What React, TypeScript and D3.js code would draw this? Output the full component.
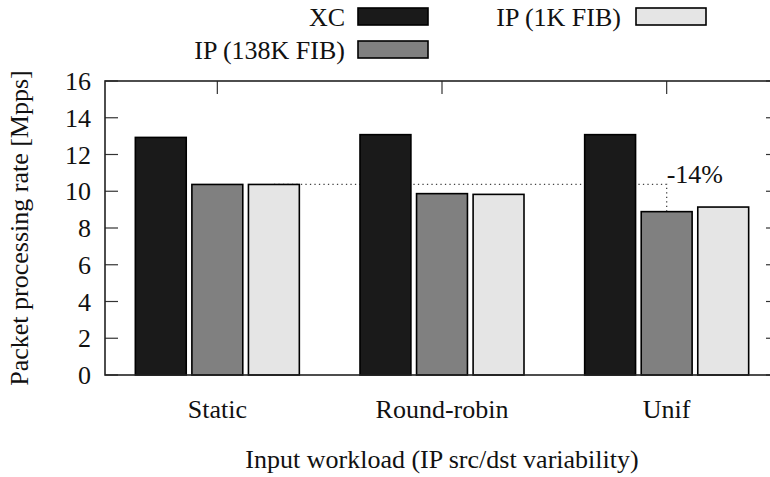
import React from "react";
import * as d3 from "d3";

// workloads on the x axis
const categories = ["Static", "Round-robin", "Unif"];
const seriesNames = ["XC", "IP (138K FIB)", "IP (1K FIB)"];
const seriesColors = ["#1a1a1a", "#808080", "#e5e5e5"];

// Mpps, one array per series
const xcValues = [12.93, 13.08, 13.08];
const ip138kValues = [10.37, 9.87, 8.89];
const ip1kValues = [10.37, 9.83, 9.14];
const yTicks = [0, 2, 4, 6, 8, 10, 12, 14, 16];

const annotation = "-14%";

const W = 770, H = 477;
const margin = { top: 81, right: -9, bottom: 102, left: 105 };
const FONT = "Times New Roman, Liberation Serif, DejaVu Serif, serif";

export default function App() {
  const series = [xcValues, ip138kValues, ip1kValues];

  const x = d3.scaleBand().domain(categories).range([margin.left, W - margin.right]).padding(0);
  const xs = d3.scaleBand().domain(seriesNames).range([-82, 82]).paddingInner(0.1);
  const y = d3.scaleLinear().domain([0, 16]).range([H - margin.bottom, margin.top]);

  const cx = (c: string) => (x(c) as number) + x.bandwidth() / 2;
  const barX = (c: string, s: string) => cx(c) + (xs(s) as number);

  const left = margin.left, right = W - margin.right;
  const top = margin.top, bottom = H - margin.bottom;
  const tickLen = 13;

  // dotted reference: static IP level carried over to the Unif IP (138K) bar
  const refY = y(ip138kValues[0]);
  const refX0 = barX(categories[0], seriesNames[2]) + xs.bandwidth() / 2;
  const refX1 = barX(categories[2], seriesNames[1]) + xs.bandwidth() / 2;

  const legendRows = [
    { name: seriesNames[0], color: seriesColors[0], tx: 345, bx: 358, cy: 16.5 },
    { name: seriesNames[1], color: seriesColors[1], tx: 345, bx: 358, cy: 49.5 },
    { name: seriesNames[2], color: seriesColors[2], tx: 621, bx: 636, cy: 16.5 },
  ];

  const T = (props: any) => (
    <text fontFamily={FONT} fontSize={26} fill="#111" {...props} />
  );

  return (
    <svg width={W} height={H} fontFamily={FONT}
      style={{ position: "absolute", left: 0, top: 0, background: "#fff", fontFamily: FONT }}>
      {/* dotted guide, behind bars */}
      <path d={`M${refX0},${refY}H${refX1}V${y(ip138kValues[2])}`} fill="none" stroke="#444"
        strokeWidth={1.3} strokeDasharray="1.3,3.2" />

      {/* bars */}
      {categories.map((c, ci) =>
        seriesNames.map((s, si) => (
          <rect key={c + s} x={barX(c, s)} y={y(series[si][ci])} width={xs.bandwidth()}
            height={y(0) - y(series[si][ci])} fill={seriesColors[si]} stroke="#000" strokeWidth={1.6} />
        ))
      )}

      <T x={refX1} y={183}>{annotation}</T>

      {/* y ticks left and mirrored right */}
      {yTicks.map((t) => (
        <g key={t}>
          <line x1={left} x2={left + tickLen} y1={y(t)} y2={y(t)} stroke="#333" strokeWidth={1.2} />
          <line x1={right - tickLen} x2={right} y1={y(t)} y2={y(t)} stroke="#333" strokeWidth={1.2} />
          <T x={left - 14} y={y(t) + 9} textAnchor="end">{String(t)}</T>
        </g>
      ))}

      {/* x ticks on top border, labels below */}
      {categories.map((c) => (
        <g key={c}>
          <line x1={cx(c)} x2={cx(c)} y1={top} y2={top + tickLen} stroke="#333" strokeWidth={1.2} />
          <T x={cx(c)} y={418} textAnchor="middle">{c}</T>
        </g>
      ))}

      {/* border */}
      <rect x={left} y={top} width={right - left} height={bottom - top} fill="none" stroke="#222" strokeWidth={1.6} />

      <T x={(left + right) / 2} y={468} textAnchor="middle">Input workload (IP src/dst variability)</T>
      <T transform={`translate(28,${(top + bottom) / 2}) rotate(-90)`} textAnchor="middle">
        Packet processing rate [Mpps]
      </T>

      {/* legend */}
      {legendRows.map((r) => (
        <g key={r.name}>
          <T x={r.tx} y={r.cy + 9} textAnchor="end">{r.name}</T>
          <rect x={r.bx} y={r.cy - 8.5} width={70} height={17} fill={r.color} stroke="#000" strokeWidth={1.6} />
        </g>
      ))}
    </svg>
  );
}
